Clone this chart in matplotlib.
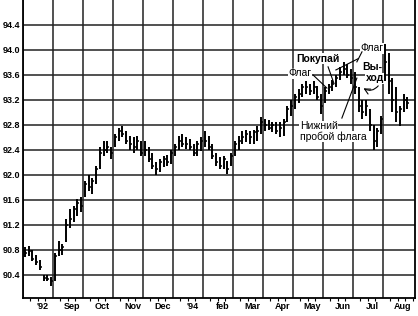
# Bar chart of a rising market with a flag pattern (Aug '92 - Aug)
import numpy as np
import matplotlib.pyplot as plt

plt.rcParams['font.family'] = ['Liberation Sans', 'DejaVu Sans']

# month labels, placed inside each month column
months = ["'92", 'Sep', 'Oct', 'Nov', 'Dec', "'94", 'feb', 'Mar', 'Apr', 'May', 'Jun', 'Jul', 'Aug']
yticks = [90.4, 90.8, 91.2, 91.6, 92.0, 92.4, 92.8, 93.2, 93.6, 94.0, 94.4]

# bar lows / highs / closes, 8 bars per month
lows = [
    90.68, 90.70, 90.62, 90.56, 90.48, 90.30, 90.30, 90.22,   # Aug
    90.30, 90.70, 90.72, 90.92, 91.15, 91.25, 91.35, 91.40,   # Sep
    91.65, 91.75, 91.70, 91.85, 92.10, 92.30, 92.35, 92.25,   # Oct
    92.45, 92.55, 92.60, 92.50, 92.40, 92.35, 92.40, 92.30,   # Nov
    92.30, 92.20, 92.10, 92.00, 92.05, 92.12, 92.15, 92.18,   # Dec
    92.30, 92.40, 92.45, 92.42, 92.40, 92.30, 92.30, 92.38,   # Jan
    92.45, 92.40, 92.25, 92.15, 92.10, 92.10, 92.02, 92.15,   # Feb
    92.30, 92.40, 92.50, 92.52, 92.50, 92.50, 92.55, 92.65,   # Mar
    92.70, 92.72, 92.68, 92.65, 92.60, 92.62, 92.85, 92.95,   # Apr
    93.05, 93.15, 93.25, 93.30, 93.28, 93.30, 93.20, 92.98,   # May
    93.15, 93.30, 93.35, 93.40, 93.52, 93.60, 93.55, 93.45,   # Jun
    93.30, 93.00, 92.90, 92.95, 92.70, 92.40, 92.45, 92.65,   # Jul
    93.50, 93.30, 93.00, 92.85, 92.78, 93.00, 93.05,          # Aug
]
highs = [
    90.84, 90.86, 90.80, 90.72, 90.64, 90.40, 90.40, 90.36,
    90.75, 90.95, 90.90, 91.30, 91.45, 91.50, 91.62, 91.65,
    91.90, 92.00, 91.95, 92.15, 92.45, 92.55, 92.55, 92.45,
    92.65, 92.75, 92.78, 92.70, 92.62, 92.60, 92.62, 92.55,
    92.55, 92.45, 92.35, 92.20, 92.25, 92.30, 92.32, 92.40,
    92.50, 92.62, 92.65, 92.60, 92.58, 92.50, 92.55, 92.60,
    92.70, 92.62, 92.50, 92.35, 92.28, 92.30, 92.22, 92.35,
    92.55, 92.62, 92.70, 92.72, 92.70, 92.72, 92.78, 92.92,
    92.90, 92.88, 92.85, 92.85, 92.85, 92.90, 93.10, 93.20,
    93.30, 93.38, 93.45, 93.50, 93.46, 93.50, 93.42, 93.30,
    93.40, 93.45, 93.52, 93.60, 93.72, 93.80, 93.78, 93.70,
    93.65, 93.40, 93.20, 93.20, 93.05, 92.80, 92.75, 92.95,
    94.10, 93.95, 93.55, 93.40, 93.10, 93.30, 93.25,
]
closes = [
    90.75, 90.78, 90.66, 90.60, 90.52, 90.35, 90.33, 90.30,
    90.70, 90.80, 90.85, 91.20, 91.30, 91.45, 91.55, 91.50,
    91.85, 91.80, 91.90, 92.10, 92.35, 92.40, 92.45, 92.35,
    92.60, 92.70, 92.65, 92.55, 92.50, 92.45, 92.55, 92.35,
    92.40, 92.25, 92.15, 92.10, 92.20, 92.25, 92.20, 92.35,
    92.45, 92.55, 92.50, 92.50, 92.45, 92.35, 92.50, 92.55,
    92.55, 92.45, 92.30, 92.20, 92.15, 92.25, 92.10, 92.30,
    92.50, 92.55, 92.60, 92.65, 92.60, 92.68, 92.70, 92.85,
    92.80, 92.75, 92.80, 92.70, 92.75, 92.85, 93.05, 93.10,
    93.25, 93.30, 93.40, 93.40, 93.35, 93.40, 93.25, 93.10,
    93.35, 93.40, 93.45, 93.55, 93.65, 93.70, 93.60, 93.55,
    93.40, 93.10, 93.00, 93.10, 92.80, 92.55, 92.70, 92.90,
    93.80, 93.50, 93.20, 93.00, 93.05, 93.20, 93.15,
]

fig = plt.figure(figsize=(4.18, 3.16), dpi=100)
ax = fig.add_axes([0.055, 0.057, 0.938, 0.943])

x = np.array([(i // 8) + (i % 8 + 0.5) / 8 for i in range(len(lows))])
ax.vlines(x, lows, highs, color='black', lw=1.4, zorder=3)
ax.hlines(closes, x, x + 0.07, color='black', lw=1.1, zorder=3)

ax.set_xlim(0, 13.07)
ax.set_ylim(90.03, 94.8)

# grid
ax.set_yticks(yticks)
ax.set_yticklabels([f'{v:.1f}' for v in yticks], fontsize=6.5, fontweight='bold')
ax.set_xticks(range(13))
ax.set_xticklabels([])
ax.set_xticks(np.arange(0, 13.07, 0.25), minor=True)
ax.tick_params(axis='y', length=0, pad=2)
ax.tick_params(axis='x', which='major', length=0)
ax.tick_params(axis='x', which='minor', length=2, direction='out', width=0.8)
ax.grid(True, which='major', color='#222222', lw=1.1)
ax.spines['top'].set_visible(False)
for s in ['left', 'bottom', 'right']:
    ax.spines[s].set_linewidth(1.3)

trans = ax.get_xaxis_transform()
for i, m in enumerate(months):
    ax.text(i + 0.65, -0.012, m, transform=trans, ha='center', va='top',
            fontsize=6.5, fontweight='bold')

# annotations
box = dict(facecolor='white', edgecolor='none', pad=0.3)
ax.text(9.23, 93.63, 'Флаг', fontsize=7.5, ha='center', va='center', bbox=box, zorder=4)
ax.plot([9.67, 10.13], [93.60, 93.39], color='black', lw=0.8, zorder=4)
ax.text(9.83, 93.86, 'Покупай', fontsize=7.5, fontweight='bold', ha='center', va='center', bbox=box, zorder=4)
ax.plot([10.17, 10.37], [93.73, 93.46], color='black', lw=0.8, zorder=4)
ax.plot([10.43, 11.17], [93.68, 93.86], color='black', lw=0.8, zorder=4)
ax.text(11.63, 94.03, 'Флаг', fontsize=7.5, ha='center', va='center', bbox=box, zorder=4)
ax.plot([11.3, 11.13], [93.97, 93.81], color='black', lw=0.8, zorder=4)
ax.text(11.63, 93.73, 'Вы-', fontsize=7.5, fontweight='bold', ha='center', va='center', bbox=box, zorder=4)
ax.text(11.73, 93.55, 'ход', fontsize=7.5, fontweight='bold', ha='center', va='center', bbox=box, zorder=4)
ax.annotate('', xy=(11.27, 93.41), xytext=(11.9, 93.46),
            arrowprops=dict(arrowstyle='->', color='black', lw=0.8,
                            connectionstyle='arc3,rad=-0.5'), zorder=4)
ax.text(9.23, 92.78, 'Нижний', fontsize=7.5, ha='left', va='center', bbox=box, zorder=4)
ax.text(9.23, 92.61, 'пробой флага', fontsize=7.5, ha='left', va='center', bbox=box, zorder=4)
ax.plot([10.63, 11.13], [92.91, 93.55], color='black', lw=0.8, zorder=4)

fig.savefig('out.png', dpi=100)
